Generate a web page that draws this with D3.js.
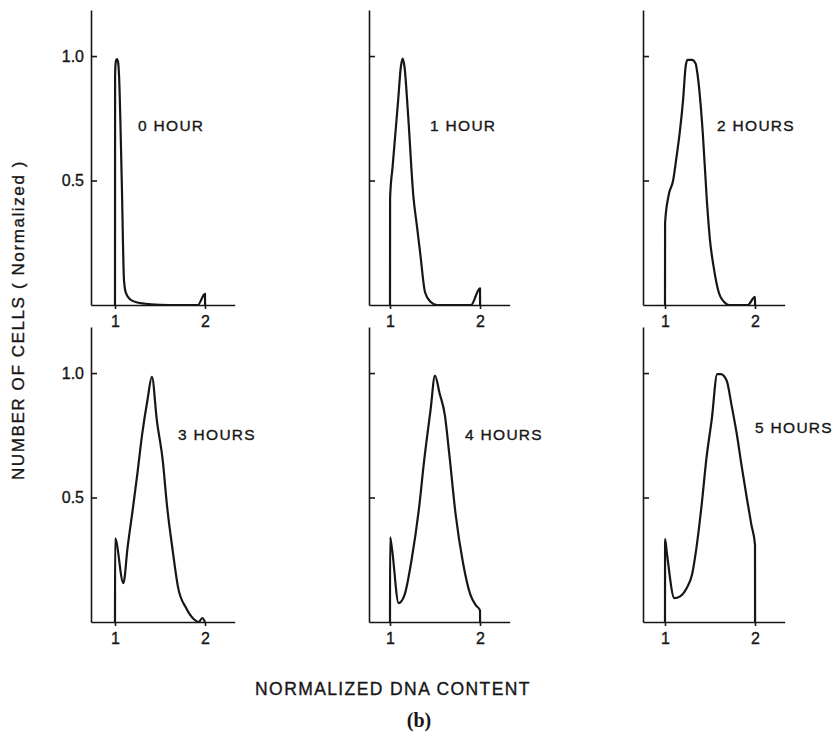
<!DOCTYPE html>
<html lang="en">
<head>
  <meta charset="UTF-8">
  <title>DNA content histograms</title>
  <style>
    body { margin: 0; background: #fff; }
    svg text { font-family: "Liberation Sans", Arial, sans-serif; fill: #161616; stroke: #161616; stroke-width: 0.35px; }
    .axis path, .axis line { stroke: #161616; stroke-width: 1.6; }
    .curve { fill: none; stroke: #161616; stroke-width: 2.2; stroke-linejoin: round; }
  </style>
</head>
<body>
  <svg id="chart"></svg>

  <script src="https://d3js.org/d3.v7.min.js"></script>
  <script>
    // data: [normalized DNA content, number of cells (normalized)]
    const panelLabels = ["0 HOUR", "1 HOUR", "2 HOURS", "3 HOURS", "4 HOURS", "5 HOURS"];
    const xTicks = [1, 2];
    const yTicks = [0.5, 1.0];

    const hour0 = [[1.0, 0], [1.001, 0.92], [1.008, 0.975], [1.02, 0.988], [1.035, 0.975], [1.045, 0.92],
      [1.075, 0.5], [1.1, 0.1], [1.12, 0.05], [1.17, 0.022], [1.25, 0.01], [1.4, 0.003], [1.6, 0],
      [1.92, 0], [2.0, 0.045], [2.001, 0]];
    const hour1 = [[1.0, 0], [1.001, 0.43], [1.03, 0.56], [1.06, 0.69], [1.09, 0.82], [1.12, 0.955], [1.14, 0.99],
      [1.16, 0.96], [1.2, 0.77], [1.26, 0.435], [1.3, 0.315], [1.336, 0.207], [1.39, 0.05], [1.45, 0.013],
      [1.52, 0], [1.9, 0], [2.0, 0.067], [2.001, 0]];
    const hour2 = [[1.0, 0], [1.001, 0.33], [1.04, 0.44], [1.09, 0.5], [1.13, 0.6], [1.163, 0.69], [1.2, 0.82],
      [1.23, 0.96], [1.25, 0.985], [1.3, 0.985], [1.34, 0.97], [1.36, 0.93], [1.42, 0.69], [1.465, 0.42],
      [1.5, 0.26], [1.54, 0.154], [1.6, 0.047], [1.655, 0.013], [1.71, 0], [1.92, 0], [2.0, 0.033], [2.001, 0]];
    const hour3 = [[1.0, 0], [1.001, 0.336], [1.093, 0.156], [1.14, 0.3], [1.2, 0.46], [1.25, 0.6], [1.3, 0.75],
      [1.36, 0.89], [1.41, 0.985], [1.465, 0.81], [1.53, 0.65], [1.58, 0.46], [1.64, 0.29], [1.7, 0.14],
      [1.79, 0.056], [1.88, 0.01], [1.93, 0], [1.97, 0.016], [2.0, 0]];
    const hour4 = [[1.0, 0], [1.001, 0.34], [1.02, 0.3], [1.096, 0.076], [1.16, 0.107], [1.24, 0.25], [1.32, 0.45],
      [1.38, 0.65], [1.45, 0.85], [1.5, 0.99], [1.55, 0.92], [1.61, 0.83], [1.66, 0.67], [1.73, 0.43],
      [1.81, 0.24], [1.89, 0.113], [1.955, 0.067], [2.0, 0.047], [2.001, 0]];
    const hour5 = [[1.0, 0], [1.001, 0.333], [1.02, 0.28], [1.104, 0.096], [1.167, 0.103], [1.24, 0.136],
      [1.3, 0.19], [1.35, 0.3], [1.41, 0.48], [1.46, 0.656], [1.52, 0.816], [1.58, 0.996], [1.62, 0.996],
      [1.685, 0.97], [1.74, 0.87], [1.8, 0.75], [1.85, 0.63], [1.91, 0.496], [1.96, 0.39], [2.0, 0.31], [2.001, 0]];
    const curves = [hour0, hour1, hour2, hour3, hour4, hour5];

    // layout
    const svgWidth = 835, svgHeight = 734;
    const colLeft = [91, 369, 643];     // y-axis position of each column
    const colOne = [115, 390, 665];     // where x = 1 falls
    const rowBase = [305, 622];         // baseline of each row
    const pxPerUnitX = 90;
    const plotH = 295;
    const xMax = 2.33, yMax = 1.185;
    const labelPos = [[138, 131], [430, 131], [717, 131], [178, 440], [465, 440], [755, 433]];

    const svg = d3.select("#chart")
      .attr("width", svgWidth)
      .attr("height", svgHeight);

    const line = d3.line().curve(d3.curveMonotoneX);

    curves.forEach((pts, i) => {
      const col = i % 3, row = Math.floor(i / 3);
      const xMin = 1 - (colOne[col] - colLeft[col]) / pxPerUnitX;
      const x = d3.scaleLinear().domain([xMin, xMax]).range([0, (xMax - xMin) * pxPerUnitX]);
      const y = d3.scaleLinear().domain([0, yMax]).range([plotH, 0]);

      const g = svg.append("g")
        .attr("transform", `translate(${colLeft[col]},${rowBase[row] - plotH})`);

      // y axis, ticks point inward, labels only on first column
      g.append("g")
        .attr("class", "axis")
        .call(d3.axisLeft(y).tickValues(yTicks).tickSize(-6).tickSizeOuter(0).tickPadding(7)
          .tickFormat(col === 0 ? d3.format(".1f") : () => ""));

      // x axis
      g.append("g")
        .attr("class", "axis")
        .attr("transform", `translate(0,${plotH})`)
        .call(d3.axisBottom(x).tickValues(xTicks).tickSize(4).tickSizeOuter(0).tickPadding(7)
          .tickFormat(d3.format("d")));

      g.selectAll(".axis text")
        .style("font-family", "'Liberation Sans', Arial, sans-serif")
        .style("font-size", "16px");

      g.append("path")
        .attr("class", "curve")
        .attr("d", line(pts.map(d => [x(d[0]), y(d[1])])));

      svg.append("text")
        .attr("x", labelPos[i][0])
        .attr("y", labelPos[i][1])
        .style("font-size", "15.5px")
        .style("letter-spacing", "1.3px")
        .text(panelLabels[i]);
    });

    // axis titles
    svg.append("text")
      .attr("transform", "translate(24,320) rotate(-90)")
      .attr("text-anchor", "middle")
      .style("font-size", "17px")
      .style("letter-spacing", "1.6px")
      .text("NUMBER OF CELLS ( Normalized )");

    svg.append("text")
      .attr("x", 393)
      .attr("y", 695)
      .attr("text-anchor", "middle")
      .style("font-size", "17.5px")
      .style("letter-spacing", "1.4px")
      .text("NORMALIZED DNA CONTENT");

    svg.append("text")
      .attr("x", 419)
      .attr("y", 727)
      .attr("text-anchor", "middle")
      .style("font-family", "'Liberation Serif', 'DejaVu Serif', serif")
      .style("font-weight", "bold")
      .style("stroke-width", "0")
      .style("font-size", "20px")
      .text("(b)");
  </script>
</body>
</html>
